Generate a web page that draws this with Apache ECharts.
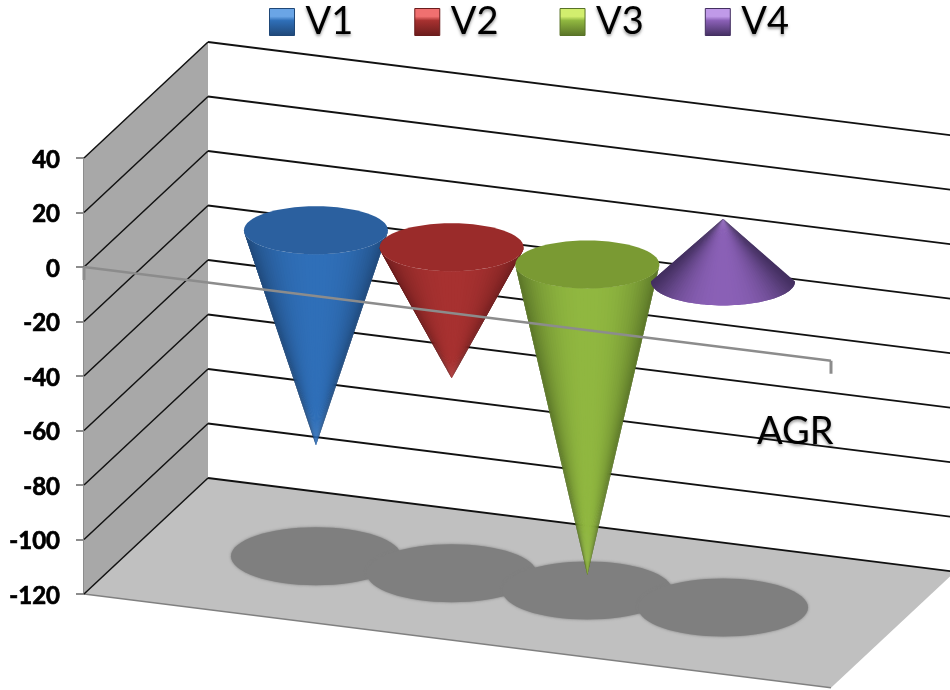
<!DOCTYPE html>
<html>
<head>
<meta charset="utf-8">
<title>AGR</title>
<script src="https://cdn.jsdelivr.net/npm/echarts@6/dist/echarts.min.js"></script>
<style>
  html, body { margin: 0; padding: 0; background: #fff; }
  #chart { width: 950px; height: 690px; }
</style>
</head>
<body>
<div id="chart"></div>
<script>
const categories = ['AGR']
const seriesNames = ['V1', 'V2', 'V3', 'V4']
const seriesValues = [-79, -48, -114, 23]
const tickValues = [40, 20, 0, -20, -40, -60, -80, -100, -120]

// cone colours: edge, middle, top face, legend highlight
const coneColors = [
  { edge: '#1f4777', mid: '#2f6fb8', top: '#2b609f', light: '#6aa5e6' },
  { edge: '#6a1c1c', mid: '#a73130', top: '#9a2b2a', light: '#f07070' },
  { edge: '#587227', mid: '#90b740', top: '#7a9a33', light: '#d2ee6e' },
  { edge: '#432f60', mid: '#8a60b6', top: '#6b4a90', light: '#c09ae8' },
]

// fake 3d box
const depthDx = 124
const depthDy = -116
const skew = 0.1255
const coneStep = 135.7
const coneRx = 72
const coneRy = 24
const font = 'Lato, "Open Sans", sans-serif'

const shadowOffsetY = 326

const conePos = (api, idx) => {
  const zero = api.coord([0, 0])
  const x = zero[0] + (idx - 1.5) * coneStep + depthDx / 2
  const frontX = x - depthDx / 2
  const y = zero[1] + (frontX - 84) * skew + depthDy / 2
  return [x, y, zero[1]]
}

const renderFrame = (params, api) => {
  const g = params.coordSys
  const x0 = g.x
  const x1 = g.x + g.width
  const dy = g.width * skew
  const bottom = api.coord([0, -120])[1]
  const top = api.coord([0, 40])[1]
  const children = [
    {
      type: 'polygon',
      shape: { points: [[x0, top], [x0 + depthDx, top + depthDy], [x0 + depthDx, bottom + depthDy], [x0, bottom]] },
      style: { fill: '#a8a8a8' },
    },
    {
      type: 'polygon',
      shape: { points: [[x0, bottom], [x0 + depthDx, bottom + depthDy], [x1 + depthDx, bottom + depthDy + dy], [x1, bottom + dy]] },
      style: { fill: '#c0c0c0' },
    },
    {
      type: 'line',
      shape: { x1: x0, y1: bottom, x2: x1, y2: bottom + dy },
      style: { stroke: '#808080', lineWidth: 1.5 },
    },
  ]
  // shadows on the floor
  seriesNames.forEach((name, i) => {
    const p = conePos(api, i)
    children.push({
      type: 'ellipse',
      shape: { cx: p[0], cy: p[1] + shadowOffsetY, rx: 85, ry: 29 },
      style: { fill: '#7f7f7f', shadowBlur: 3, shadowColor: '#7f7f7f' },
    })
  })
  // gridlines on both walls
  tickValues.forEach((t) => {
    const y = api.coord([0, t])[1]
    children.push({
      type: 'polyline',
      shape: { points: [[x0, y], [x0 + depthDx, y + depthDy]] },
      style: { stroke: '#111', lineWidth: 1.5, fill: null },
    })
    children.push({
      type: 'polyline',
      shape: { points: [[x0 + depthDx, y + depthDy], [x1 + depthDx, y + depthDy + dy]] },
      style: { stroke: '#111', lineWidth: 1.9, fill: null },
    })
  })
  return { type: 'group', children }
}

const renderCone = (params, api) => {
  const idx = params.seriesIndex - 1
  const c = coneColors[idx]
  const p = conePos(api, idx)
  const value = api.value(1)
  const tipY = p[1] + api.coord([0, value])[1] - p[2]
  const children = []
  // overlapping wedges from the tip to the front of the base, later ones cover the seams
  const stepDeg = 3
  for (let a = 0; a < 180; a += stepDeg) {
    const r0 = (a * Math.PI) / 180
    const r1 = (Math.min(a + stepDeg * 2, 180) * Math.PI) / 180
    const rm = ((a + stepDeg / 2) * Math.PI) / 180
    const shade = 1 - Math.pow(Math.abs(Math.cos(rm)), 2.5)
    children.push({
      type: 'polygon',
      shape: {
        points: [
          [p[0], tipY],
          [p[0] + coneRx * Math.cos(r0), p[1] + coneRy * Math.sin(r0)],
          [p[0] + coneRx * Math.cos((r0 + r1) / 2), p[1] + coneRy * Math.sin((r0 + r1) / 2)],
          [p[0] + coneRx * Math.cos(r1), p[1] + coneRy * Math.sin(r1)],
        ],
      },
      style: { fill: echarts.color.lerp(shade, [c.edge, c.mid]) },
    })
  }
  if (value < 0) {
    children.push({
      type: 'ellipse',
      shape: { cx: p[0], cy: p[1], rx: coneRx, ry: coneRy },
      style: { fill: c.top },
    })
  }
  return { type: 'group', children }
}

// x axis is drawn last, it runs over the cones
const renderFrontAxis = (params, api) => {
  const g = params.coordSys
  const zero = api.coord([0, 0])[1]
  const end = zero + g.width * skew
  const style = { stroke: '#8c8c8c', lineWidth: 2.4 }
  const tick = { stroke: '#8c8c8c', lineWidth: 3 }
  return {
    type: 'group',
    children: [
      { type: 'line', shape: { x1: g.x, y1: zero, x2: g.x + g.width, y2: end }, style },
      { type: 'line', shape: { x1: g.x, y1: zero, x2: g.x, y2: zero + 13 }, style: tick },
      { type: 'line', shape: { x1: g.x + g.width, y1: end, x2: g.x + g.width, y2: end + 13 }, style: tick },
    ],
  }
}

const chart = echarts.init(document.getElementById('chart'))

chart.setOption({
  animation: false,
  backgroundColor: '#fff',
  grid: { left: 84, top: 158, width: 747, height: 436 },
  legend: {
    left: 269,
    top: 3,
    padding: 0,
    itemWidth: 25,
    itemHeight: 27,
    itemGap: 61,
    textStyle: {
      fontFamily: font,
      fontSize: 38,
      color: '#000',
      padding: [0, 0, 0, 6],
      textShadowColor: 'rgba(0,0,0,0.4)',
      textShadowBlur: 3,
      textShadowOffsetY: 2,
    },
    data: seriesNames.map((name, i) => ({
      name,
      icon: 'rect',
      itemStyle: {
        color: new echarts.graphic.LinearGradient(0, 0, 0, 1, [
          { offset: 0, color: coneColors[i].light },
          { offset: 0.3, color: coneColors[i].light },
          { offset: 0.45, color: coneColors[i].mid },
          { offset: 1, color: coneColors[i].edge },
        ]),
        borderColor: coneColors[i].edge,
        borderWidth: 1,
      },
    })),
  },
  xAxis: { type: 'category', data: categories, show: false },
  yAxis: {
    type: 'value',
    min: -120,
    max: 40,
    interval: 20,
    axisLine: { show: true, lineStyle: { color: '#8c8c8c', width: 2 } },
    axisTick: { show: true, length: 8, lineStyle: { color: '#8c8c8c', width: 2 } },
    axisLabel: {
      margin: 24,
      verticalAlign: 'top',
      lineHeight: 4,
      fontFamily: font,
      fontSize: 24,
      fontWeight: 'bold',
      color: '#000',
      textBorderColor: '#000',
      textBorderWidth: 0.7,
    },
    splitLine: { show: false },
  },
  graphic: [
    {
      type: 'text',
      left: 757,
      top: 413,
      z: 20,
      style: {
        text: categories[0],
        fontFamily: font,
        fontSize: 38,
        fill: '#000',
        textShadowColor: 'rgba(0,0,0,0.4)',
        textShadowBlur: 3,
        textShadowOffsetY: 2,
      },
    },
  ],
  series: [
    { name: 'frame', type: 'custom', renderItem: renderFrame, data: [[0, 0]], silent: true, z: 1 },
    ...seriesNames.map((name, i) => ({
      name,
      type: 'custom',
      renderItem: renderCone,
      encode: { x: 0, y: 1 },
      data: [[categories[0], seriesValues[i]]],
      itemStyle: { color: coneColors[i].mid },
      z: 2 + i,
    })),
    { name: 'axis', type: 'custom', renderItem: renderFrontAxis, data: [[0, 0]], silent: true, z: 10 },
  ],
})
</script>
</body>
</html>
